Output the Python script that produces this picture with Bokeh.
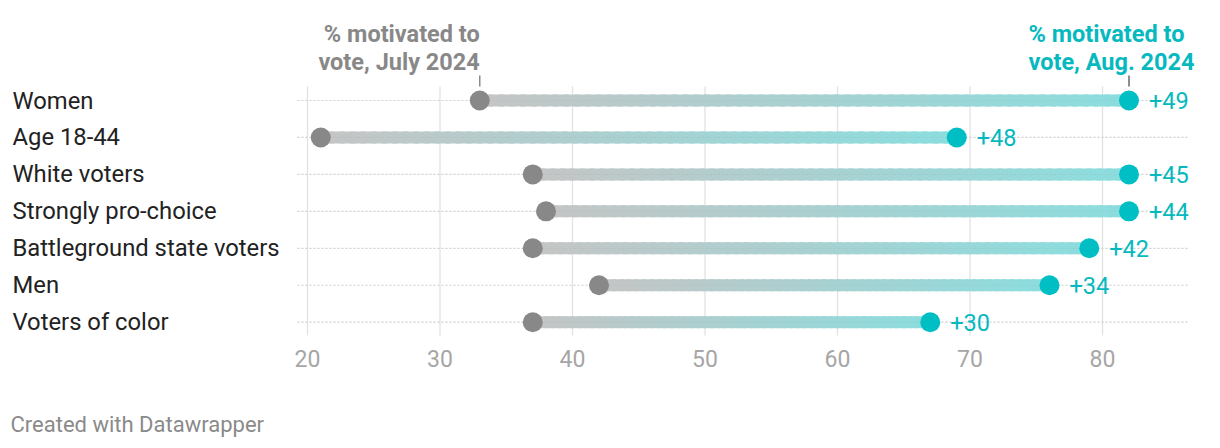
import numpy as np
from bokeh.plotting import figure
from bokeh.models import Range1d
from bokeh.embed import file_html
from bokeh.resources import INLINE
from bokeh.core.properties import value

# ---------------- data ----------------
categories = ["Women", "Age 18-44", "White voters", "Strongly pro-choice",
              "Battleground state voters", "Men", "Voters of color"]
july = [33, 21, 37, 38, 37, 42, 37]
aug = [82, 69, 82, 82, 79, 76, 67]
x_ticks = [20, 30, 40, 50, 60, 70, 80]
july_title = ["% motivated to", "vote, July 2024"]
aug_title = ["% motivated to", "vote, Aug. 2024"]
footer = "Created with Datawrapper"

# ---------------- styles ----------------
GREY = "#888888"
TEAL = "#00bfc4"
TEAL_TEXT = "#05b9bf"
BAR_START = (197, 197, 197)
BAR_END = (140, 221, 222)
FONT = "Roboto"

W, H = 1204, 440
X20_PX, PX = 307.0, 13.25        # pixel of x=20, px per unit
ROW0_PX, ROW_PX = 100.0, 36.95   # pixel of first row, px per row


def x_at(px):
    return 20 + (px - X20_PX) / PX


def y_at(py):
    return (py - ROW0_PX) / ROW_PX


rows = list(range(len(categories)))

p = figure(width=W, height=H, output_backend="svg", toolbar_location=None,
           x_range=Range1d(x_at(0), x_at(W)), y_range=Range1d(y_at(H), y_at(0)),
           min_border=0, x_axis_location=None, y_axis_location=None,
           outline_line_color=None, background_fill_color="white",
           border_fill_color="white")
p.grid.visible = False

GRID_TOP, GRID_BOTTOM = y_at(86), y_at(335)
LEFT, RIGHT = x_at(297), x_at(1189)

# vertical grid lines
p.segment(x0=x_ticks, x1=x_ticks, y0=[GRID_TOP] * len(x_ticks),
          y1=[GRID_BOTTOM] * len(x_ticks), line_color="#e2e2e2", line_width=1.3)
# dotted row lines
p.segment(x0=[LEFT] * len(rows), x1=[RIGHT] * len(rows), y0=rows, y1=rows,
          line_color="#d9d9d9", line_dash="2 2", line_width=1.2)

# axis tick labels
p.text(x=x_ticks, y=[y_at(358)] * len(x_ticks), text=[str(t) for t in x_ticks],
       text_align="center", text_baseline="middle", text_font=value(FONT),
       text_font_size="23px", text_color="#a6a6a6")

# gradient bars
n = 60
x0s, x1s, ys, cols = [], [], [], []
for i, (a, b) in enumerate(zip(july, aug)):
    pts = np.linspace(a, b, n + 1)
    ov = (b - a) / n * 0.25
    for k in range(n):
        f = (k + 0.5) / n
        c = tuple(int(round(s + (e - s) * f)) for s, e in zip(BAR_START, BAR_END))
        x0s.append(pts[k] - (ov if k > 0 else 0))
        x1s.append(pts[k + 1] + (ov if k < n - 1 else 0))
        ys.append(i)
        cols.append("#%02x%02x%02x" % c)
p.segment(x0=x0s, y0=ys, x1=x1s, y1=ys, line_color=cols, line_width=12,
          line_cap="butt")

# dotted grid faintly visible through bars
p.segment(x0=[LEFT] * len(rows), x1=[RIGHT] * len(rows), y0=rows, y1=rows,
          line_color="#8a8a8a", line_alpha=0.12, line_dash="2 2", line_width=1.2)

# dots
p.scatter(x=july, y=rows, size=20, fill_color=GREY, line_color=None)
p.scatter(x=aug, y=rows, size=20, fill_color=TEAL, line_color=None)

# delta labels
p.text(x=aug, y=rows, text=["+%d" % (b - a) for a, b in zip(july, aug)],
       x_offset=20, text_align="left", text_baseline="middle",
       text_font=value(FONT), text_font_size="23.5px", text_color=TEAL_TEXT)

# category labels
p.text(x=[x_at(12)] * len(rows), y=rows, text=categories, text_align="left",
       text_baseline="middle", text_font=value(FONT), text_font_size="23.8px",
       text_color="#222222")

# column headers
HEAD_Y = [33.5, 61.0]
for k, line in enumerate(july_title):
    p.text(x=[july[0]], y=[y_at(HEAD_Y[k])], text=[line], text_align="right",
           text_baseline="middle", text_font=value(FONT),
           text_font_style="bold", text_font_size="23.5px", text_color=GREY)
for k, line in enumerate(aug_title):
    p.text(x=[aug[0]], y=[y_at(HEAD_Y[k])], text=[line],
           x_offset=-22.5 + 5 * k, text_align="center",
           text_baseline="middle", text_font=value(FONT),
           text_font_style="bold", text_font_size="23.5px", text_color=TEAL_TEXT)
p.segment(x0=[july[0], aug[0]], x1=[july[0], aug[0]],
          y0=[y_at(75)] * 2, y1=[y_at(86)] * 2,
          line_color=["#8a8a8a", "#6a6a6a"], line_width=1.5)

# footer
p.text(x=[x_at(10)], y=[y_at(424)], text=[footer], text_align="left",
       text_baseline="middle", text_font=value(FONT),
       text_font_size="22px", text_color="#8a8a8a")

open("out.html", "w").write(file_html(p, INLINE))
